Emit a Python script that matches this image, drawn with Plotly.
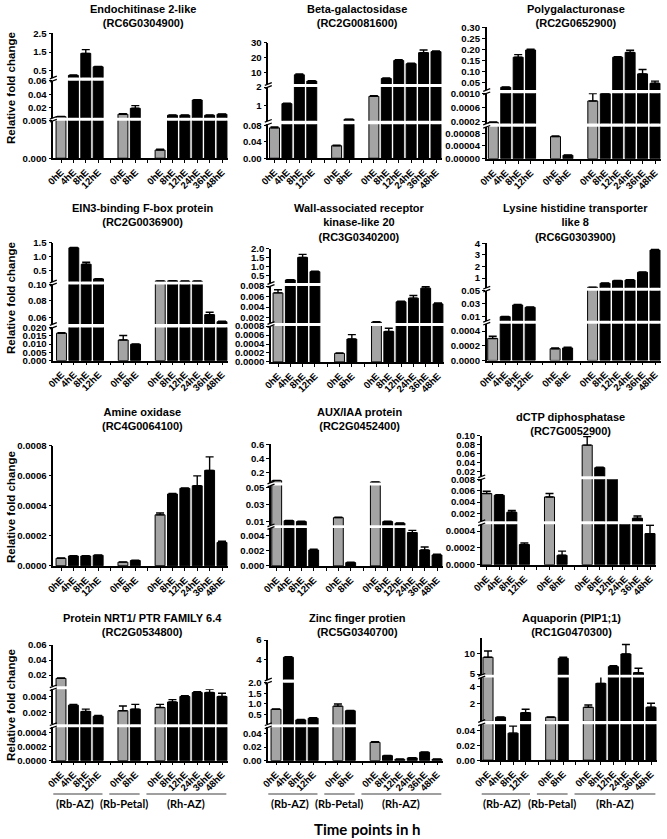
import plotly.graph_objects as go

W, H = 667, 839

# ---------------- data ----------------
time_groups = [["0hE", "4hE", "8hE", "12hE"],
               ["0hE", "8hE"],
               ["0hE", "8hE", "12hE", "24hE", "36hE", "48hE"]]
tissue_names = ["(Rb-AZ)", "(Rb-Petal)", "(Rh-AZ)"]

titles = [
    "Endochitinase 2-like<br>(RC6G0304900)",
    "Beta-galactosidase<br>(RC2G0081600)",
    "Polygalacturonase<br>(RC2G0652900)",
    "EIN3-binding F-box protein<br>(RC2G0036900)",
    "Wall-associated receptor<br>kinase-like 20<br>(RC3G0340200)",
    "Lysine histidine transporter<br>like 8<br>(RC6G0303900)",
    "Amine oxidase<br>(RC4G0064100)",
    "AUX/IAA protein<br>(RC2G0452400)",
    "dCTP diphosphatase<br>(RC7G0052900)",
    "Protein NRT1/ PTR FAMILY 6.4<br>(RC2G0534800)",
    "Zinc finger protien<br>(RC5G0340700)",
    "Aquaporin (PIP1;1)<br>(RC1G0470300)",
]

endochitinase_vals = [0.0066, 0.25, 1.43, 0.71, 0.0102, 0.019, 0.0011, 0.0087, 0.0087, 0.0314, 0.0087, 0.0102]
endochitinase_err = [0.0003, 0.02, 0.2, 0.02, 0.0008, 0.004, 0.0001, 0.0004, 0.0004, 0.0005, 0.0004, 0.0005]

betagal_vals = [0.0736, 1.09, 8.3, 4.0, 0.0303, 0.23, 1.49, 5.8, 18.0, 15.8, 23.3, 24.0]
betagal_err = [0.002, 0.03, 0.5, 0.3, 0.001, 0.01, 0.03, 0.3, 0.5, 0.4, 1.8, 0.4]

polygal_vals = [0.00018, 0.027, 0.164, 0.197, 0.0000695, 0.000011, 0.000786, 0.00099, 0.164, 0.186, 0.088, 0.045]
polygal_err = [0.00001, 0.001, 0.012, 0.004, 0.000002, 0.000001, 0.00021, 0.00001, 0.002, 0.01, 0.02, 0.01]

ein3_vals = [0.0166, 1.32, 0.74, 0.22, 0.0125, 0.0099, 0.147, 0.15, 0.14, 0.14, 0.0633, 0.0547]
ein3_err = [0.0003, 0.01, 0.07, 0.01, 0.0027, 0.0002, 0.003, 0.004, 0.003, 0.003, 0.003, 0.0005]

wak20_vals = [0.0067, 0.23, 1.51, 0.70, 0.00019, 0.00051, 0.0011, 0.00068, 0.0050, 0.0057, 0.0076, 0.0046]
wak20_err = [0.0006, 0.01, 0.17, 0.02, 0.00001, 0.0001, 0.0001, 0.00007, 0.0001, 0.0005, 0.0003, 0.0002]

lht8_vals = [0.0003, 0.0097, 0.0279, 0.0243, 0.00016, 0.00017, 0.2, 0.55, 0.77, 0.83, 1.5, 3.42]
lht8_err = [0.00003, 0.0005, 0.0008, 0.0006, 0.00001, 0.00001, 0.01, 0.02, 0.02, 0.02, 0.03, 0.05]

amine_vals = [0.00005, 0.000065, 0.000065, 0.00007, 0.000024, 0.000035, 0.00034, 0.000479, 0.000517, 0.000534, 0.000637, 0.000156]
amine_err = [0.000002, 0.000003, 0.000002, 0.000002, 0.000002, 0.000002, 0.000012, 0.000003, 0.000003, 0.000066, 0.00009, 0.000008]

auxiaa_vals = [0.085, 0.0109, 0.0098, 0.0021, 0.0145, 0.00044, 0.065, 0.0098, 0.0079, 0.0044, 0.0021, 0.00145]
auxiaa_err = [0.002, 0.0004, 0.0004, 0.0001, 0.0004, 0.00005, 0.001, 0.0004, 0.0004, 0.0003, 0.0004, 0.0001]

dctp_vals = [0.0055, 0.0052, 0.0022, 0.00024, 0.0049, 0.000112, 0.079, 0.028, 0.0082, 0.0006, 0.00115, 0.00037]
dctp_err = [0.0004, 0.0001, 0.0003, 0.00002, 0.0006, 0.00005, 0.019, 0.001, 0.001, 0.00001, 0.0004, 0.0001]

nrt1_vals = [0.0155, 0.0029, 0.0021, 0.0015, 0.0022, 0.0024, 0.0026, 0.0033, 0.0040, 0.0045, 0.0045, 0.0040]
nrt1_err = [0.0004, 0.0001, 0.0003, 0.0001, 0.0006, 0.0006, 0.0004, 0.0003, 0.0001, 0.0001, 0.0004, 0.0004]

zinc_vals = [0.75, 4.25, 0.25, 0.33, 0.9, 0.68, 0.027, 0.0073, 0.002, 0.004, 0.0123, 0.002]
zinc_err = [0.02, 0.05, 0.02, 0.02, 0.1, 0.02, 0.001, 0.0005, 0.0003, 0.0004, 0.0005, 0.0003]

aquaporin_vals = [9.05, 0.47, 0.037, 0.99, 0.47, 8.8, 1.61, 4.34, 6.8, 9.84, 5.35, 1.61]
aquaporin_err = [1.5, 0.02, 0.0096, 0.39, 0.02, 0.25, 0.26, 1.16, 0.2, 2.3, 1.05, 0.45]

# y tick labels per axis segment (bottom segment first)
endochitinase_ticks = [["0.000", "0.005"], ["0.02", "0.04", "0.06"], ["0.5", "1.5", "2.5"]]
betagal_ticks = [["0.00", "0.04", "0.08"], ["1", "2"], ["10", "20", "30"]]
polygal_ticks = [["0.00000", "0.00004", "0.00008"], ["0.0002", "0.0006", "0.0010"],
                 ["0.05", "0.10", "0.15", "0.20", "0.25", "0.30"]]
ein3_ticks = [["0.000", "0.005", "0.010", "0.015", "0.020"], ["0.06", "0.08", "0.10"], ["0.5", "1.0", "1.5"]]
wak20_ticks = [["0.0000", "0.0002", "0.0004", "0.0006", "0.0008"], ["0.002", "0.004", "0.006", "0.008"],
               ["0.5", "1.0", "1.5", "2.0"]]
lht8_ticks = [["0.0000", "0.0002", "0.0004"], ["0.01", "0.03", "0.05"], ["1", "2", "3", "4"]]
amine_ticks = [["0.0000", "0.0002", "0.0004", "0.0006", "0.0008"]]
auxiaa_ticks = [["0.000", "0.002", "0.004"], ["0.01", "0.03", "0.05"], ["0.2", "0.4", "0.6"]]
dctp_ticks = [["0.0000", "0.0002", "0.0004"], ["0.002", "0.004", "0.006", "0.008"],
              ["0.02", "0.04", "0.06", "0.08", "0.10"]]
nrt1_ticks = [["0.0000", "0.0002", "0.0004"], ["0.002", "0.004"], ["0.02", "0.04", "0.06"]]
zinc_ticks = [["0.00", "0.02", "0.04"], ["0.5", "1.0", "1.5", "2.0"], ["4", "6"]]
aquaporin_ticks = [["0.00", "0.02", "0.04"], ["2", "4"], ["5", "10"]]

# ---------------- layout (segment ranges and pixel placement) ----------------
# each segment: (range_lo, range_hi, px_bottom, px_top)
segments = [
    [(0, 0.005, 158.3, 120.7), (0.005, 0.06, 117.8, 80.7), (0.14, 2.5, 77.5, 33.3)],
    [(0, 0.082, 158.3, 124.3), (0.15, 2.0, 120.8, 87.0), (2.1, 30, 84.0, 42.7)],
    [(0, 0.0001, 158.8, 126.8), (0.00015, 0.0010, 123.5, 93.3), (0.015, 0.30, 90.0, 27.3)],
    [(0, 0.020, 360.7, 327.5), (0.052, 0.10, 324.0, 284.5), (0.13, 1.5, 281.5, 242.7)],
    [(0, 0.0008, 362.0, 326.0), (0.00097, 0.008, 323.0, 286.0), (0.06, 2.0, 283.0, 248.7)],
    [(0, 0.0005, 360.5, 323.7), (0.0034, 0.05, 320.8, 290.7), (0.17, 4, 287.7, 243.3)],
    [(0, 0.0008, 566.0, 445.7)],
    [(0, 0.005, 566.0, 528.0), (0.0055, 0.0526, 525.3, 485.5), (0.06, 0.6, 482.5, 444.3)],
    [(0, 0.00048, 564.8, 524.3), (0.00064, 0.008, 521.2, 479.3), (0.0087, 0.10, 476.3, 435.7)],
    [(0, 0.00048, 760.7, 727.3), (0.0005, 0.0049, 724.2, 689.3), (0.005, 0.06, 686.3, 645.0)],
    [(0, 0.049, 760.7, 727.3), (0.05, 2.0, 724.2, 682.7), (2.0, 6, 679.5, 640.0)],
    [(0, 0.049, 760.2, 724.3), (0.05, 5.0, 721.0, 677.5), (4.85, 13.6, 674.8, 638.3)],
]
# (y-axis x px, first bar centre px, last bar centre px, title top px)
geometry = [
    (53.3, 61.0, 222.0, 1.0), (268.3, 274.5, 436.0, 1.0), (486.7, 493.3, 655.0, 1.0),
    (53.3, 61.5, 222.0, 200.0), (271.0, 278.0, 438.0, 200.0), (486.7, 492.7, 655.0, 200.0),
    (53.3, 61.0, 222.0, 404.0), (271.0, 276.7, 437.0, 404.0), (481.7, 486.7, 650.0, 408.5),
    (53.3, 61.0, 222.0, 610.0), (268.3, 276.0, 437.0, 610.0), (481.7, 488.0, 651.0, 610.0),
]
ylabel_rows = [88, 298, 507, 705]

values = [endochitinase_vals, betagal_vals, polygal_vals, ein3_vals, wak20_vals, lht8_vals,
          amine_vals, auxiaa_vals, dctp_vals, nrt1_vals, zinc_vals, aquaporin_vals]
errors = [endochitinase_err, betagal_err, polygal_err, ein3_err, wak20_err, lht8_err,
          amine_err, auxiaa_err, dctp_err, nrt1_err, zinc_err, aquaporin_err]
ticklabels = [endochitinase_ticks, betagal_ticks, polygal_ticks, ein3_ticks, wak20_ticks, lht8_ticks,
              amine_ticks, auxiaa_ticks, dctp_ticks, nrt1_ticks, zinc_ticks, aquaporin_ticks]

# ---------------- category slots ----------------
xs, x_tickvals, x_ticktext, group_spans, bar_labels = [], [], [], [], []
pos = 0
for gi, g in enumerate(time_groups):
    if gi > 0:
        x_tickvals.append(pos); x_ticktext.append(""); pos += 1
    start = pos
    for lab in g:
        xs.append(pos); x_tickvals.append(pos); x_ticktext.append(lab); bar_labels.append(lab); pos += 1
    group_spans.append((start, pos - 1))

GRAY = "#a4a4a4"
colors = [GRAY if (i == 0 or xs[i] - xs[i - 1] > 1) else "#000000" for i in range(len(xs))]

AX_FONT = dict(family="Liberation Sans, Arial, sans-serif", size=9.6, color="black", weight="bold")


def px(x):
    return x / W


def py(y):
    return 1 - y / H


fig = go.Figure()
layout = {}
shapes = []
annotations = []
n = 0

for p in range(12):
    ax_px, first_px, last_px, title_top = geometry[p]
    slot = (last_px - first_px) / (xs[-1] - xs[0])
    x_lo = xs[0] - (first_px - ax_px) / slot
    x_hi = xs[-1] + 0.5
    right_px = last_px + 0.5 * slot
    dom_x = [px(ax_px), px(right_px)]
    bottom_xref = None
    for k, (lo, hi, pb, pt) in enumerate(segments[p]):
        n += 1
        xname = "xaxis" if n == 1 else f"xaxis{n}"
        yname = "yaxis" if n == 1 else f"yaxis{n}"
        xref = "x" if n == 1 else f"x{n}"
        yref = "y" if n == 1 else f"y{n}"
        bottom = (k == 0)
        if bottom:
            bottom_xref = xref
        layout[xname] = dict(
            domain=dom_x, range=[x_lo, x_hi], anchor=yref, automargin=False,
            showgrid=False, zeroline=False, fixedrange=True,
            showline=bottom, linecolor="black", linewidth=1.5,
            ticks="outside" if bottom else "", ticklen=3, tickwidth=1.3, tickcolor="black",
            tickmode="array", tickvals=x_tickvals if bottom else [], ticktext=x_ticktext if bottom else [],
            showticklabels=bottom, tickangle=-45, tickfont=AX_FONT,
        )
        tt = ticklabels[p][k]
        span = hi - lo
        layout[yname] = dict(
            domain=[py(pb), py(pt)], range=[lo - span * 0.002, hi + span * 0.002], anchor=xref,
            automargin=False, showgrid=False, zeroline=False, fixedrange=True,
            showline=True, linecolor="black", linewidth=1.5,
            ticks="outside", ticklen=3, tickwidth=1.3, tickcolor="black",
            tickmode="array", tickvals=[float(t) for t in tt], ticktext=tt,
            tickfont=AX_FONT,
        )
        # only bars that reach into this segment are drawn in it
        seg_vals = [v if v > lo else None for v in values[p]]
        fig.add_trace(go.Bar(
            x=xs, y=seg_vals, width=0.8,
            marker=dict(color=colors, line=dict(color="black", width=1)),
            error_y=dict(type="data", symmetric=False, array=errors[p], arrayminus=[0] * len(xs),
                         color="black", thickness=1.4, width=4),
            xaxis=xref, yaxis=yref, showlegend=False, hoverinfo="skip",
        ))
        # break marks on the y axis
        if k > 0:
            prev_top = segments[p][k - 1][3]
            for yy in (prev_top, pb):
                shapes.append(dict(type="line", xref="paper", yref="paper",
                                   x0=px(ax_px - 3.5), x1=px(ax_px + 3.5),
                                   y0=py(yy + 1.3), y1=py(yy - 1.3),
                                   line=dict(color="black", width=1.3)))
    # title
    annotations.append(dict(text=titles[p], x=px((ax_px + right_px) / 2 + 2), y=py(title_top),
                            xref="paper", yref="paper", xanchor="center", yanchor="top",
                            showarrow=False, align="center",
                            font=dict(family="Liberation Sans, Arial, sans-serif", size=11,
                                      color="black", weight="bold")))
    # y label on first column
    if p % 3 == 0:
        annotations.append(dict(text="Relative fold change", x=px(11), y=py(ylabel_rows[p // 3]),
                                xref="paper", yref="paper", xanchor="center", yanchor="middle",
                                textangle=-90, showarrow=False,
                                font=dict(family="Liberation Sans, Arial, sans-serif", size=11.5,
                                          color="black", weight="bold")))
    # tissue group labels on the bottom row
    if p >= 9:
        for (s, e), name in zip(group_spans, tissue_names):
            x0, x1 = s - 1.1, e + 0.35
            shapes.append(dict(type="line", xref=bottom_xref, yref="paper",
                               x0=x0, x1=x1, y0=py(794), y1=py(794),
                               line=dict(color="#7f7f7f", width=1.3)))
            annotations.append(dict(text=name, x=(x0 + x1) / 2, y=py(803), xref=bottom_xref,
                                    yref="paper", xanchor="center", yanchor="middle",
                                    showarrow=False,
                                    font=dict(family="Lato, Open Sans, sans-serif", size=11,
                                              color="black", weight="bold")))

annotations.append(dict(text="Time points in h", x=px(367), y=py(829), xref="paper", yref="paper",
                        xanchor="center", yanchor="middle", showarrow=False,
                        font=dict(family="Lato, Open Sans, sans-serif", size=15, color="black",
                                  weight="bold")))

fig.update_layout(
    template="none",
    width=W, height=H, margin=dict(l=0, r=0, t=0, b=0, pad=0), autosize=False,
    paper_bgcolor="white", plot_bgcolor="white", showlegend=False,
    shapes=shapes, annotations=annotations, **layout,
)
fig.write_html("out.html", config={"displayModeBar": False},
               post_script="document.body.style.margin='0';document.body.style.padding='0';")
